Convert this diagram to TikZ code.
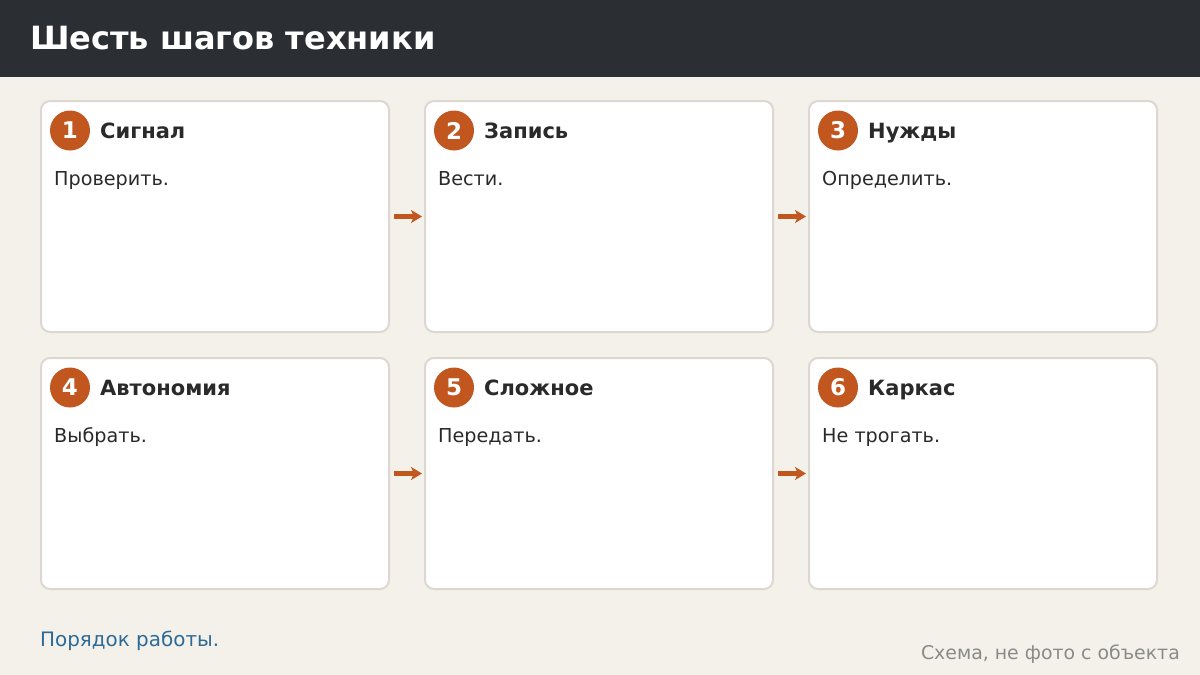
\documentclass[tikz,border=0pt]{standalone}
\usepackage{fontspec}
\setmainfont{DejaVu Sans}
\usetikzlibrary{arrows.meta}
\definecolor{bg}{HTML}{F4F1EB}
\definecolor{hdr}{HTML}{2B2E33}
\definecolor{cardb}{HTML}{DDD8CF}
\definecolor{acc}{HTML}{C1561F}
\definecolor{ink}{HTML}{2A2A2A}
\definecolor{lnk}{HTML}{2E6A96}
\definecolor{gry}{HTML}{8A8A8A}
\tikzset{
  card/.style={draw=cardb, line width=2pt, fill=white, rounded corners=9pt},
  badge/.style={circle, fill=acc, minimum size=40pt, inner sep=0pt, text=white, font=\fontsize{23}{23}\selectfont\bfseries},
  head/.style={anchor=base west, inner sep=0pt, text=ink, font=\fontsize{21}{21}\selectfont\bfseries},
  body/.style={anchor=base west, inner sep=0pt, text=ink, font=\fontsize{19.2}{19}\selectfont},
  flow/.style={draw=acc, line width=4.5pt, -{Stealth[length=11pt,width=13pt,inset=3pt]}}
}
\begin{document}
\begin{tikzpicture}[x=1pt,y=-1pt]
\useasboundingbox (0,0) rectangle (1200,675);
\fill[bg] (0,0) rectangle (1200,675);
\fill[hdr] (0,0) rectangle (1200,77);
\node[anchor=base west, inner sep=0pt, text=white, font=\fontsize{32}{32}\selectfont\bfseries] (title) at (30,49) {Шесть шагов техники};
% cards
\foreach \i/\x/\y/\h/\b in {1/41/101/Сигнал/Проверить., 2/425/101/Запись/Вести., 3/809/101/Нужды/Определить., 4/41/358/Автономия/Выбрать., 5/425/358/Сложное/Передать., 6/809/358/Каркас/Не трогать.}{
  \draw[card] (\x,\y) rectangle ++(348,231);
  \coordinate (c\i w) at (\x,\y+115.5);
  \coordinate (c\i e) at (\x+348,\y+115.5);
  \node[badge] (n\i) at (\x+29,\y+29.5) {\i};
  \node[head] (h\i) at (\x+59,\y+37) {\h};
  \node[body] (b\i) at (\x+13,\y+84) {\b};
}
\draw[flow] ([xshift=5pt]c1e) -- ([xshift=-3pt]c2w);
\draw[flow] ([xshift=5pt]c2e) -- ([xshift=-3pt]c3w);
\draw[flow] ([xshift=5pt]c4e) -- ([xshift=-3pt]c5w);
\draw[flow] ([xshift=5pt]c5e) -- ([xshift=-3pt]c6w);
\node[anchor=base west, inner sep=0pt, text=lnk, font=\fontsize{19.9}{20}\selectfont] (foot) at (40,646) {Порядок работы.};
\node[anchor=base east, inner sep=0pt, text=gry, font=\fontsize{18.9}{19}\selectfont] (note) at (1180,659) {Схема, не фото с объекта};
\end{tikzpicture}
\end{document}
